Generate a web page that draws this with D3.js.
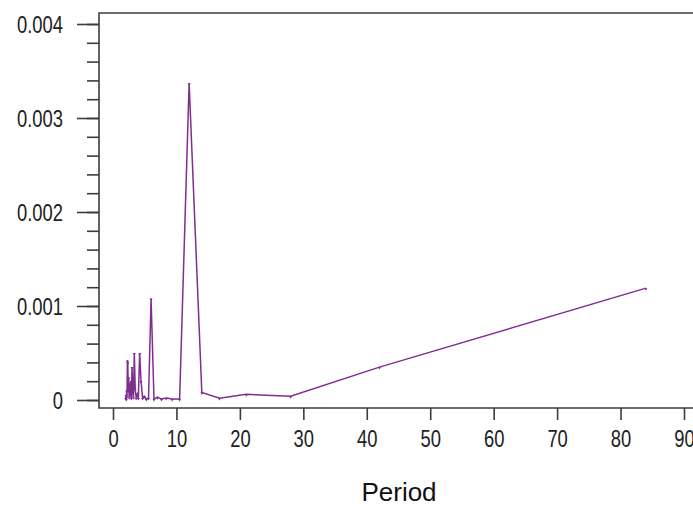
<!DOCTYPE html>
<html>
<head>
<meta charset="utf-8">
<script src="https://cdn.jsdelivr.net/npm/d3@7"></script>
<style>
  body { margin: 0; background: #fff; }
  svg { display: block; }
  .tick text { font-family: "Liberation Sans", Arial, sans-serif; fill: #222; }
</style>
</head>
<body>
<script>
// periodogram, N = 84 -> period = 84 / k
const harmonics = d3.range(1, 43)
const periods = harmonics.map(k => 84 / k)
// ordinate per harmonic k = 1..42
const density = [
  0.00119, 0.00035, 0.00004, 0.00006, 0.00002, 0.00008, 0.00337, 0.00001,
  0.00001, 0.00002, 0.00001, 0.00003, 0.00001, 0.00108, 0.00002, 0.00001,
  0.00004, 0.00002, 0.00020, 0.00050, 0.00002, 0.00006, 0.00002, 0.00012,
  0.00050, 0.00003, 0.00008, 0.00035, 0.00002, 0.00020, 0.00005, 0.00018,
  0.00003, 0.00024, 0.00010, 0.00040, 0.00042, 0.00004, 0.00010, 0.00001,
  0.00005, 0.00002
]
const xTicks = d3.range(0, 91, 10)
const yTicks = [0, 0.001, 0.002, 0.003, 0.004]
const yMinor = d3.range(0, 0.00401, 0.0002)

const W = 693, H = 506
const frameLeft = 99, frameTop = 13, frameBottom = 408
const axisColor = '#3c3c3c'
const lineColor = '#7e2f8e'
const squeeze = 0.8   // tick labels in the original are narrow and tall

const svg = d3.select('body').append('svg')
    .attr('width', W)
    .attr('height', H)

const x = d3.scaleLinear().domain([0, 90]).range([113, 684])
const y = d3.scaleLinear().domain([0, 0.004]).range([400, 24])

// frame
svg.append('path')
    .attr('d', `M${W},${frameTop}H${frameLeft}V${frameBottom}H${W}`)
    .attr('fill', 'none')
    .attr('stroke', axisColor)
    .attr('stroke-width', 1.6)

// y axis: minor then major ticks
const yMinorAxis = svg.append('g')
    .attr('transform', `translate(${frameLeft},0)`)
    .call(d3.axisLeft(y).tickValues(yMinor).tickSize(12).tickFormat(''))
yMinorAxis.select('.domain').remove()
yMinorAxis.selectAll('line').attr('stroke', axisColor).attr('stroke-width', 1.6)

const yAxis = svg.append('g')
    .attr('transform', `translate(${frameLeft},0)`)
    .call(d3.axisLeft(y).tickValues(yTicks).tickSize(22).tickPadding(14)
        .tickFormat(d => d === 0 ? '0' : d3.format('.3f')(d)))
yAxis.select('.domain').remove()
yAxis.selectAll('line').attr('stroke', axisColor).attr('stroke-width', 1.6)
yAxis.selectAll('text')
    .attr('font-size', 23)
    .attr('dy', '0.36em')
    .attr('x', -36 / squeeze)
    .attr('transform', `scale(${squeeze},1)`)

// x axis
const xAxis = svg.append('g')
    .attr('transform', `translate(0,${frameBottom})`)
    .call(d3.axisBottom(x).tickValues(xTicks).tickSize(12).tickPadding(11).tickFormat(d3.format('d')))
xAxis.select('.domain').remove()
xAxis.selectAll('line').attr('stroke', axisColor).attr('stroke-width', 1.6)
xAxis.selectAll('text')
    .attr('font-size', 23)
    .attr('transform', `scale(${squeeze},1)`)

svg.append('text')
    .attr('x', 399)
    .attr('y', 501)
    .attr('text-anchor', 'middle')
    .attr('font-family', '"Liberation Sans", Arial, sans-serif')
    .attr('font-size', 26)
    .attr('fill', '#111')
    .text('Period')

// series
const points = periods.map((p, i) => ({ period: p, value: density[i] }))
    .sort((a, b) => a.period - b.period)

const line = d3.line()
    .x(d => x(d.period))
    .y(d => y(d.value))

svg.append('path')
    .datum(points)
    .attr('d', line)
    .attr('fill', 'none')
    .attr('stroke', lineColor)
    .attr('stroke-width', 1.5)
    .attr('stroke-linejoin', 'miter')

// small markers under each ordinate
svg.selectAll('.mark')
    .data(points)
    .enter()
    .append('path')
    .attr('class', 'mark')
    .attr('transform', d => `translate(${x(d.period)},${y(d.value)})`)
    .attr('d', 'M-1.5,0L1.5,0L0,2.5Z')
    .attr('fill', lineColor)
</script>
</body>
</html>
